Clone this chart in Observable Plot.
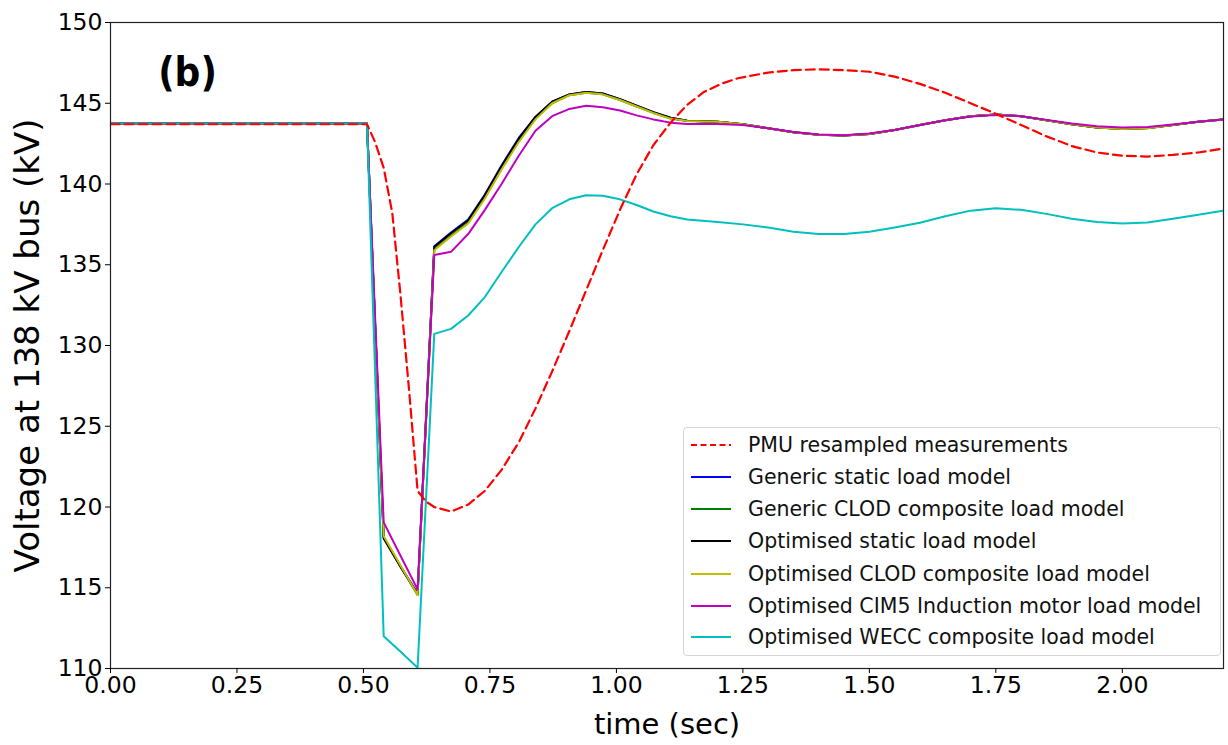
<!DOCTYPE html>
<html>
<head>
<meta charset="utf-8">
<script src="https://cdn.jsdelivr.net/npm/d3@7"></script>
<script src="https://cdn.jsdelivr.net/npm/@observablehq/plot@0.6"></script>
<style>
  html, body { margin: 0; padding: 0; background: #fff; }
  #wrap { position: relative; width: 1228px; height: 745px; font-family: "DejaVu Sans", sans-serif; }
  #legend { position: absolute; left: 683px; top: 427px; width: 538px; height: 229px;
    border: 1px solid #d4d4d4; border-radius: 4px; background: rgba(255,255,255,0.85); box-sizing: border-box; }
  .row { position: absolute; left: 0; height: 32px; display: flex; align-items: center; }
  .row span { font-size: 20.5px; color: #111; white-space: nowrap; margin-left: 16px; }
</style>
</head>
<body>
<div id="wrap"><div id="legend"></div></div>
<script>
// ---------- data ----------
const seriesNames = [
  "PMU resampled measurements",
  "Generic static load model",
  "Generic CLOD composite load model",
  "Optimised static load model",
  "Optimised CLOD composite load model",
  "Optimised CIM5 Induction motor load model",
  "Optimised WECC composite load model"
];
const seriesColors = ["#ff0000", "#0000ff", "#008000", "#000000", "#bfbf00", "#bf00bf", "#00bfbf"];

const xTicks = [0, 0.25, 0.5, 0.75, 1.0, 1.25, 1.5, 1.75, 2.0];
const yTicks = [110, 115, 120, 125, 130, 135, 140, 145, 150];

const timePMU = [0, 0.507, 0.523, 0.54, 0.557, 0.573, 0.59, 0.607, 0.623, 0.64,
  0.673, 0.707, 0.74, 0.773, 0.807, 0.84, 0.873, 0.907, 0.94, 0.973,
  1.007, 1.04, 1.073, 1.107, 1.14, 1.173, 1.207, 1.24, 1.3, 1.35,
  1.4, 1.45, 1.5, 1.55, 1.6, 1.65, 1.7, 1.75, 1.8, 1.85,
  1.9, 1.95, 2.0, 2.05, 2.1, 2.15, 2.2];
const pmuMeasured = [143.7, 143.7, 142.6, 141.0, 138.2, 133.2, 127.3, 121.0, 120.35, 120.0,
  119.72, 120.15, 121.0, 122.3, 124.0, 126.1, 128.4, 130.9, 133.4, 135.9,
  138.4, 140.6, 142.4, 143.8, 144.9, 145.7, 146.2, 146.55, 146.9, 147.05,
  147.1, 147.05, 146.95, 146.65, 146.2, 145.65, 145.0, 144.35, 143.65, 142.95,
  142.35, 141.95, 141.75, 141.7, 141.8, 141.95, 142.2];

const timeModel = [0, 0.507, 0.54, 0.573, 0.607, 0.64, 0.673, 0.707, 0.74, 0.773,
  0.807, 0.84, 0.873, 0.907, 0.94, 0.973, 1.007, 1.04, 1.073, 1.107,
  1.14, 1.2, 1.25, 1.3, 1.35, 1.4, 1.45, 1.5, 1.55, 1.6,
  1.65, 1.7, 1.75, 1.8, 1.85, 1.9, 1.95, 2.0, 2.05, 2.1,
  2.15, 2.2];
const genericStatic = [143.75, 143.75, 118.1, 116.35, 114.65, 136.15, 137.0, 137.8, 139.35, 141.15,
  142.85, 144.15, 145.1, 145.55, 145.7, 145.6, 145.25, 144.85, 144.45, 144.1,
  143.92, 143.85, 143.7, 143.45, 143.2, 143.05, 143.0, 143.1, 143.35, 143.65,
  143.95, 144.2, 144.3, 144.2, 143.95, 143.7, 143.5, 143.42, 143.47, 143.65,
  143.85, 144.0];
const genericCLOD = [143.75, 143.75, 118.15, 116.35, 114.55, 135.95, 136.8, 137.6, 139.15, 140.95,
  142.65, 144.05, 145.0, 145.5, 145.65, 145.55, 145.2, 144.8, 144.4, 144.05,
  143.9, 143.85, 143.7, 143.45, 143.2, 143.05, 143.0, 143.1, 143.35, 143.65,
  143.95, 144.2, 144.3, 144.2, 143.95, 143.7, 143.5, 143.4, 143.45, 143.65,
  143.85, 144.0];
const optimisedStatic = [143.75, 143.75, 118.05, 116.3, 114.6, 136.1, 136.95, 137.75, 139.3, 141.1,
  142.8, 144.15, 145.1, 145.55, 145.7, 145.6, 145.25, 144.85, 144.45, 144.1,
  143.92, 143.85, 143.7, 143.45, 143.2, 143.05, 143.0, 143.1, 143.35, 143.65,
  143.95, 144.2, 144.3, 144.2, 143.95, 143.7, 143.5, 143.42, 143.47, 143.65,
  143.85, 144.0];
const optimisedCLOD = [143.75, 143.75, 118.2, 116.4, 114.55, 135.9, 136.75, 137.55, 139.1, 140.9,
  142.6, 144.0, 145.0, 145.5, 145.65, 145.55, 145.2, 144.8, 144.4, 144.05,
  143.9, 143.85, 143.7, 143.45, 143.2, 143.05, 143.0, 143.1, 143.35, 143.65,
  143.95, 144.2, 144.3, 144.2, 143.95, 143.7, 143.5, 143.4, 143.45, 143.65,
  143.85, 144.0];
const optimisedCIM5 = [143.75, 143.75, 119.05, 117.0, 114.9, 135.6, 135.8, 136.9, 138.4, 140.0,
  141.75, 143.3, 144.2, 144.65, 144.85, 144.75, 144.55, 144.25, 144.0, 143.8,
  143.72, 143.72, 143.65, 143.45, 143.22, 143.07, 143.02, 143.12, 143.35, 143.65,
  143.95, 144.18, 144.28, 144.2, 143.97, 143.75, 143.57, 143.5, 143.53, 143.68,
  143.85, 144.0];
const optimisedWECC = [143.75, 143.75, 112.0, 111.05, 110.05, 130.72, 131.03, 131.86, 133.0, 134.55,
  136.1, 137.5, 138.5, 139.05, 139.3, 139.27, 139.05, 138.7, 138.3, 138.0,
  137.8, 137.65, 137.5, 137.3, 137.05, 136.9, 136.9, 137.05, 137.3, 137.6,
  138.0, 138.35, 138.5, 138.4, 138.15, 137.85, 137.65, 137.55, 137.62, 137.85,
  138.1, 138.35];

// ---------- build tables ----------
const toRows = (ts, vs) => ts.map((t, i) => ({t, v: vs[i]}));
const modelSeries = [genericStatic, genericCLOD, optimisedStatic, optimisedCLOD, optimisedCIM5, optimisedWECC];
const pmuRows = toRows(timePMU, pmuMeasured);

const lineMarks = modelSeries.map((vals, i) =>
  Plot.line(toRows(timeModel, vals), {x: "t", y: "v", stroke: seriesColors[i + 1], strokeWidth: 2, clip: true})
);

const chart = Plot.plot({
  width: 1228,
  height: 745,
  marginLeft: 110,
  marginRight: 5,
  marginTop: 22,
  marginBottom: 77,
  x: {domain: [0, 2.2]},
  y: {domain: [110, 150]},
  style: {fontFamily: "DejaVu Sans", background: "white", color: "black"},
  marks: [
    ...lineMarks,
    Plot.line(pmuRows, {x: "t", y: "v", stroke: seriesColors[0], strokeWidth: 2.2, strokeDasharray: "9,5", clip: true}),
    Plot.frame({stroke: "#222", strokeWidth: 1.2}),
    Plot.axisX({ticks: xTicks, tickFormat: d3.format(".2f"), tickSize: 5, tickPadding: 3, fontSize: 23.5, label: null}),
    Plot.axisY({ticks: yTicks, tickFormat: d3.format("d"), tickSize: 5, tickPadding: 3, fontSize: 23.5, label: null}),
    Plot.text(["time (sec)"], {frameAnchor: "bottom", textAnchor: "middle", lineAnchor: "middle", dy: 56, fontSize: 29}),
    Plot.text(["Voltage at 138 kV bus (kV)"], {frameAnchor: "left", textAnchor: "middle", rotate: -90, lineAnchor: "middle", dx: -82, fontSize: 34}),
    Plot.text(["(b)"], {frameAnchor: "top-left", textAnchor: "middle", lineAnchor: "middle", dx: 77, dy: 51, fontSize: 40, fontWeight: "bold", fontFamily: "DejaVu Sans Condensed"})
  ]
});

const wrap = document.getElementById("wrap");
wrap.insertBefore(chart, wrap.firstChild);

// ---------- legend ----------
const legend = document.getElementById("legend");
const rowTops = [1, 33, 65, 97, 130, 162, 193];
seriesNames.forEach((name, i) => {
  const row = document.createElement("div");
  row.className = "row";
  row.style.top = rowTops[i] + "px";
  row.style.left = "6px";
  const dash = i === 0 ? 'stroke-dasharray="6,3.5"' : "";
  row.innerHTML = `<svg width="42" height="6"><line x1="1" y1="3" x2="41" y2="3" stroke="${seriesColors[i]}" stroke-width="2.2" ${dash}/></svg><span>${name}</span>`;
  legend.appendChild(row);
});
</script>
</body>
</html>
